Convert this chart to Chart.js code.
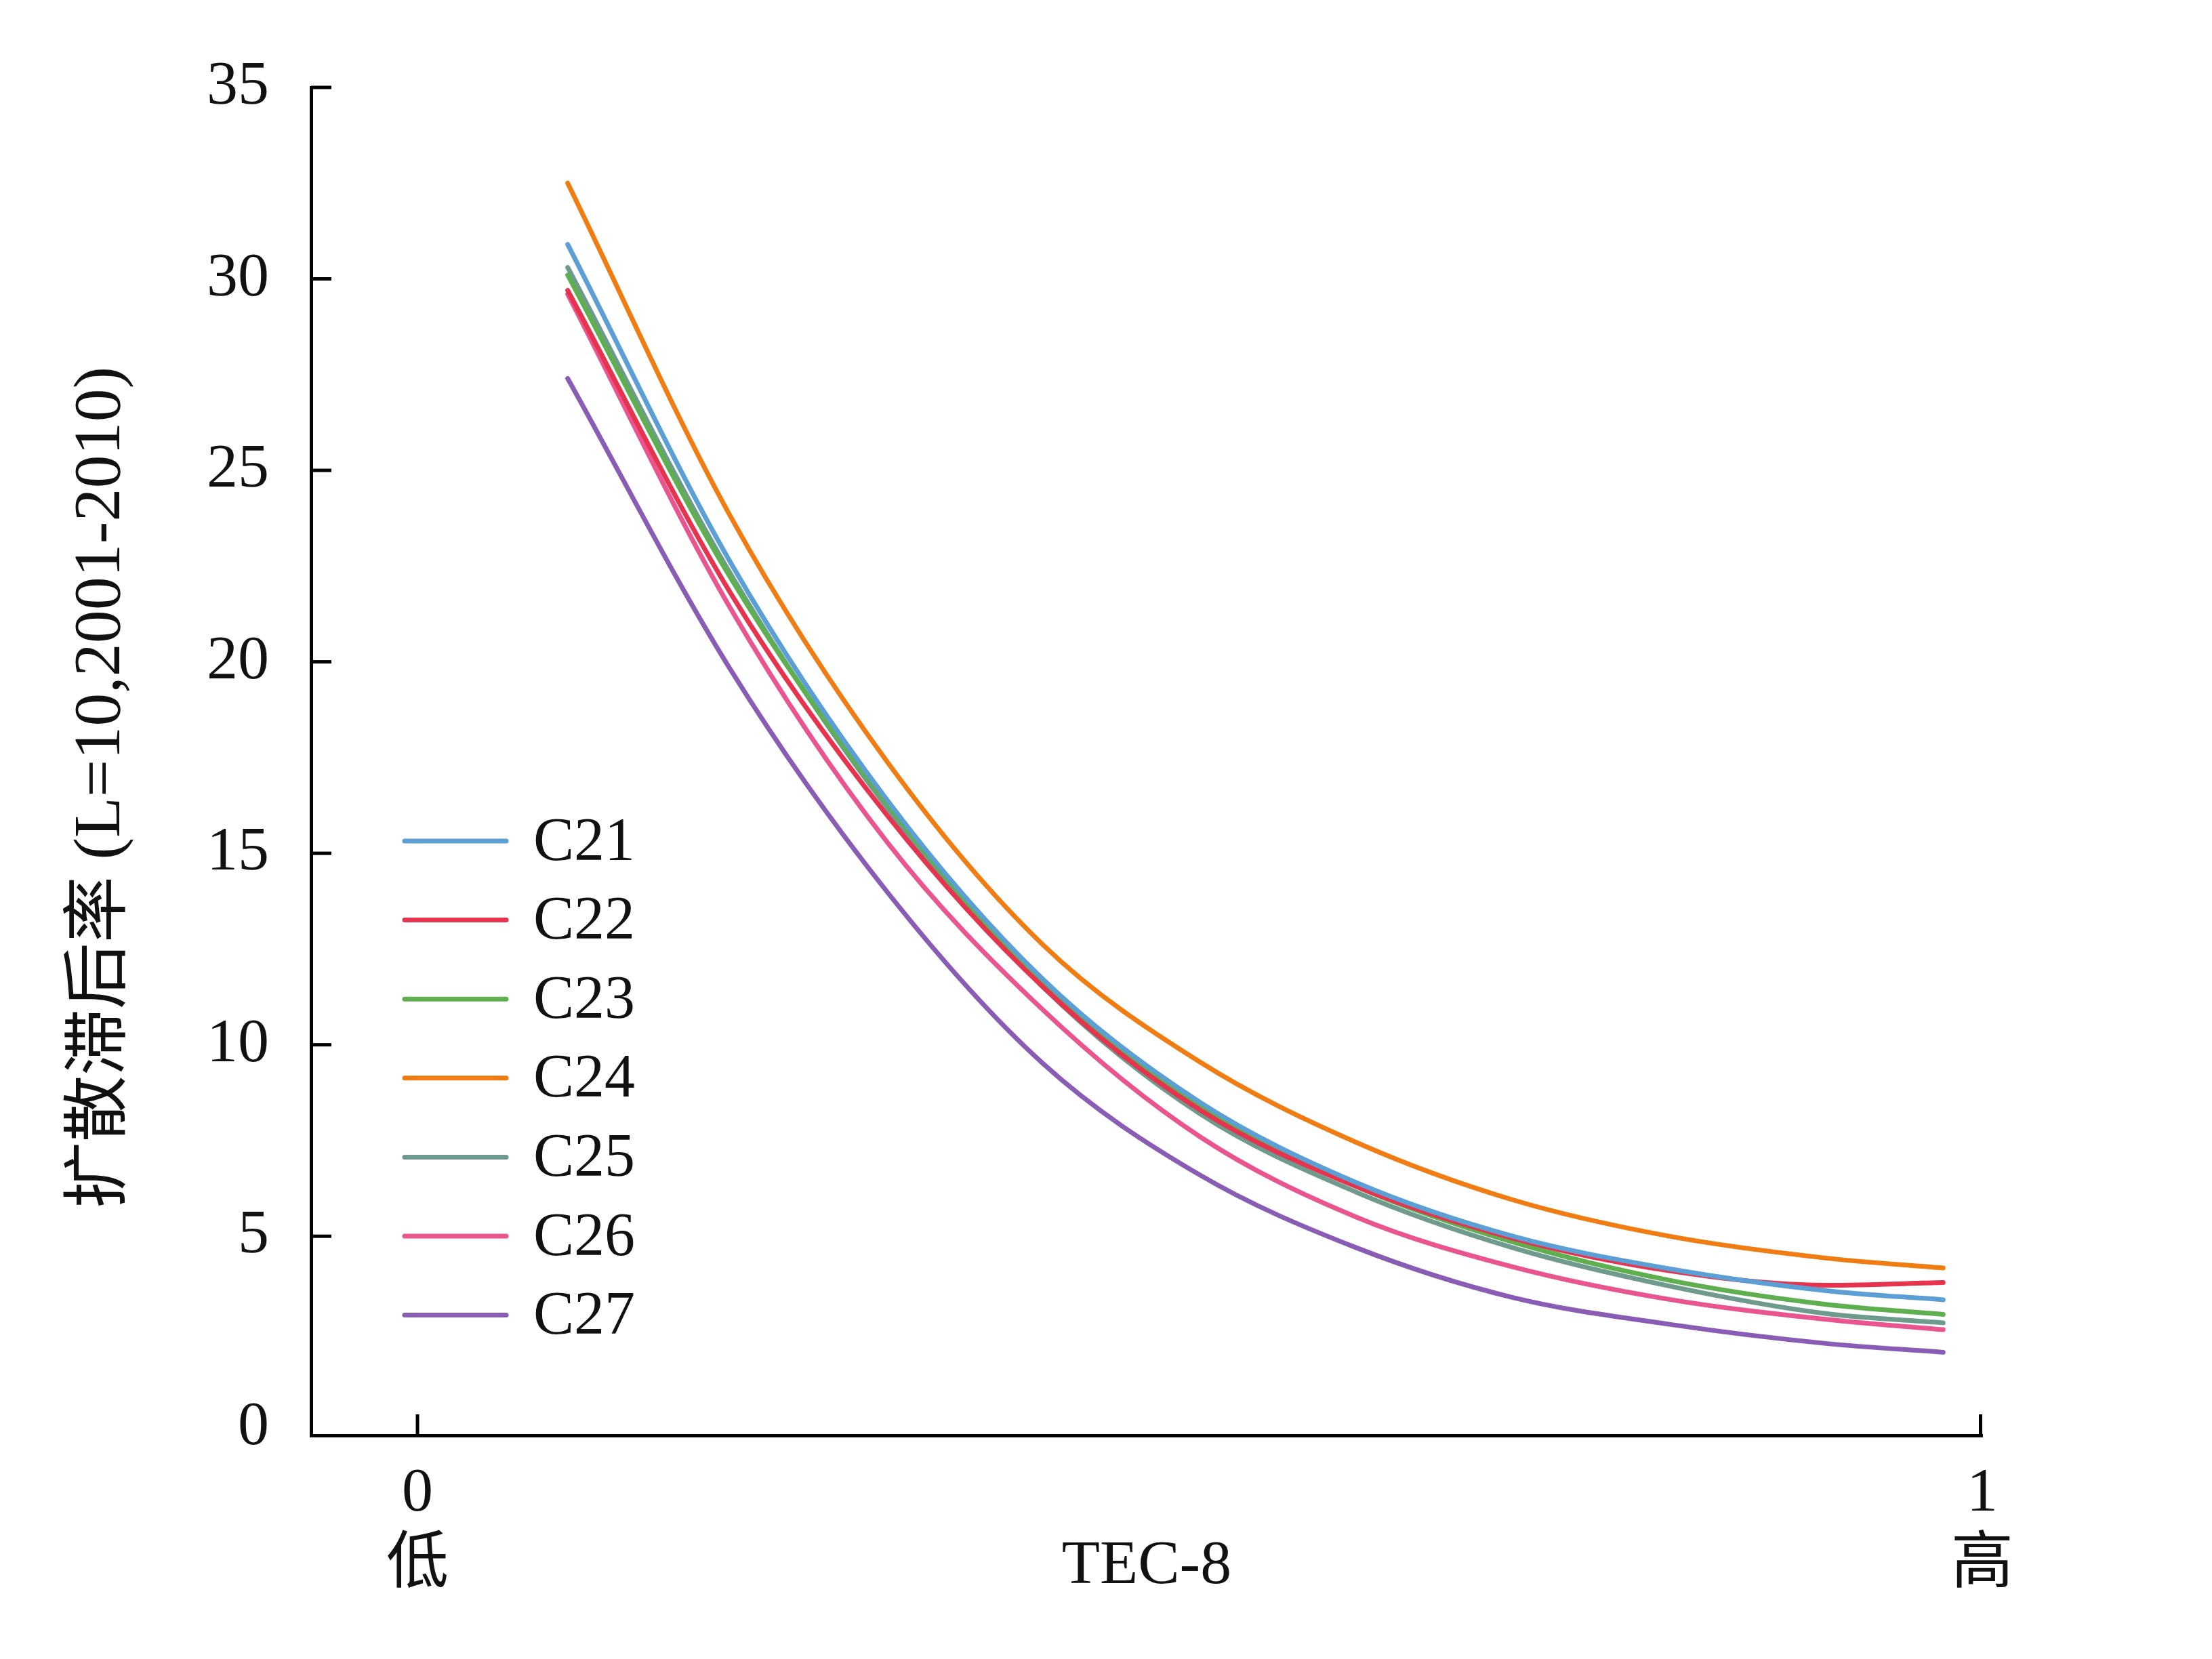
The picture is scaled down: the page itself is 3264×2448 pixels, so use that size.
<!DOCTYPE html>
<html>
<head>
<meta charset="utf-8">
<script src="https://cdn.jsdelivr.net/npm/chart.js@4.4.0/dist/chart.umd.min.js"></script>
<style>
  html, body { margin: 0; padding: 0; background: #fff; }
  canvas { display: block; }
</style>
</head>
<body>
<canvas id="chart" width="3264" height="2448"></canvas>
<script>
// values
var xValues = [0.096, 0.2, 0.3, 0.4, 0.5, 0.6, 0.7, 0.8, 0.9, 0.975];
var seriesNames = ['C21', 'C22', 'C23', 'C24', 'C25', 'C26', 'C27'];
var c21 = [30.9, 22.6, 16.4, 11.7, 8.5, 6.4, 5.0, 4.15, 3.58, 3.34];
var c22 = [29.7, 21.8, 16.0, 11.5, 8.3, 6.3, 4.95, 4.1, 3.72, 3.79];
var c23 = [30.1, 22.2, 16.3, 11.6, 8.4, 6.3, 4.85, 3.85, 3.22, 2.96];
var c24 = [32.5, 23.8, 17.4, 12.6, 9.55, 7.45, 5.95, 5.0, 4.43, 4.17];
var c25 = [30.3, 22.3, 16.2, 11.5, 8.2, 6.15, 4.7, 3.7, 2.98, 2.74];
var c26 = [29.6, 21.4, 15.3, 10.9, 7.6, 5.5, 4.2, 3.35, 2.83, 2.56];
var c27 = [27.4, 19.8, 14.0, 9.5, 6.6, 4.7, 3.4, 2.7, 2.2, 1.97];
var seriesColors = ['#5b9fd4', '#e6344f', '#5fae4f', '#f07d14', '#6f9b8f', '#e9558f', '#8a5db5'];

var yTickValues = [0, 5, 10, 15, 20, 25, 30, 35];
var xTickValues = [0, 1];
var xTickLabels = [['0', '低'], ['1', '高']];
var yTitle = '扩散滞后率 (L=10,2001-2010)';
var xTitle = 'TEC-8';

var serif = "'Liberation Serif', 'Noto Sans CJK SC', serif";
var allSeries = [c21, c22, c23, c24, c25, c26, c27];

var datasets = [];
for (var i = 0; i < allSeries.length; i++) {
    var pts = [];
    for (var j = 0; j < xValues.length; j++) {
        pts.push({ x: xValues[j], y: allSeries[i][j] });
    }
    datasets.push({
        label: seriesNames[i],
        data: pts,
        borderColor: seriesColors[i],
        backgroundColor: seriesColors[i],
        borderWidth: 7,
        borderCapStyle: 'round',
        pointRadius: 0,
        fill: false,
        cubicInterpolationMode: 'monotone'
    });
}

// inward tick marks, rotated y title and the legend inside the plot
var extras = {
    id: 'extras',
    afterDraw: function (chart) {
        var ctx = chart.ctx;
        var xs = chart.scales.x, ys = chart.scales.y;
        var area = chart.chartArea;
        ctx.save();
        ctx.strokeStyle = '#000';
        ctx.lineWidth = 5;
        for (var i = 0; i < yTickValues.length; i++) {
            if (yTickValues[i] === 0) continue;
            var py = ys.getPixelForValue(yTickValues[i]);
            ctx.beginPath();
            ctx.moveTo(area.left, py);
            ctx.lineTo(area.left + 30, py);
            ctx.stroke();
        }
        for (var k = 0; k < xTickValues.length; k++) {
            var px = xs.getPixelForValue(xTickValues[k]);
            if (k === xTickValues.length - 1) px -= 2.5;
            ctx.beginPath();
            ctx.moveTo(px, area.bottom);
            ctx.lineTo(px, area.bottom - 31);
            ctx.stroke();
        }

        // y title
        ctx.fillStyle = '#111';
        ctx.font = '98px ' + serif;
        ctx.textAlign = 'center';
        ctx.textBaseline = 'middle';
        ctx.translate(150, 1162);
        ctx.rotate(-Math.PI / 2);
        ctx.fillText(yTitle, 0, 0);
        ctx.restore();

        // legend
        ctx.save();
        ctx.font = '90px ' + serif;
        ctx.textAlign = 'left';
        ctx.textBaseline = 'middle';
        ctx.lineCap = 'round';
        chart.data.datasets.forEach(function (ds, n) {
            var ly = 1241 + n * 116.6;
            ctx.strokeStyle = ds.borderColor;
            ctx.lineWidth = 7;
            ctx.beginPath();
            ctx.moveTo(597, ly);
            ctx.lineTo(747, ly);
            ctx.stroke();
            ctx.fillStyle = '#111';
            ctx.fillText(ds.label, 787, ly + 4);
        });
        ctx.restore();
    }
};

const ctx1 = document.getElementById('chart');
const chart = new Chart(ctx1, {
    type: 'line',
    data: { datasets: datasets },
    options: {
        responsive: false,
        animation: false,
        devicePixelRatio: 1,
        layout: { padding: { top: 129, right: 339, left: 0, bottom: 0 } },
        plugins: {
            legend: { display: false },
            tooltip: { enabled: false }
        },
        scales: {
            x: {
                type: 'linear',
                min: -0.068,
                max: 1,
                afterBuildTicks: function (scale) {
                    scale.ticks = xTickValues.map(function (v) { return { value: v }; });
                },
                afterFit: function (scale) { scale.height = 330; },
                grid: { display: false, drawTicks: false },
                border: { display: true, color: '#000', width: 5 },
                ticks: {
                    color: '#111',
                    padding: 34,
                    maxRotation: 0,
                    autoSkip: false,
                    font: { family: serif, size: 92, lineHeight: 1.15 },
                    callback: function (value) {
                        var idx = xTickValues.indexOf(value);
                        return idx >= 0 ? xTickLabels[idx] : '';
                    }
                },
                title: {
                    display: true,
                    text: xTitle,
                    color: '#111',
                    font: { family: serif, size: 92 },
                    padding: { top: 0, bottom: 81 }
                }
            },
            y: {
                min: -0.2,
                max: 35,
                afterBuildTicks: function (scale) {
                    scale.ticks = yTickValues.map(function (v) { return { value: v }; });
                },
                afterFit: function (scale) { scale.width = 459; },
                grid: { display: false, drawTicks: false },
                border: { display: true, color: '#000', width: 5 },
                ticks: {
                    color: '#111',
                    padding: 62,
                    font: { family: serif, size: 92 }
                }
            }
        }
    },
    plugins: [extras]
});
</script>
</body>
</html>
